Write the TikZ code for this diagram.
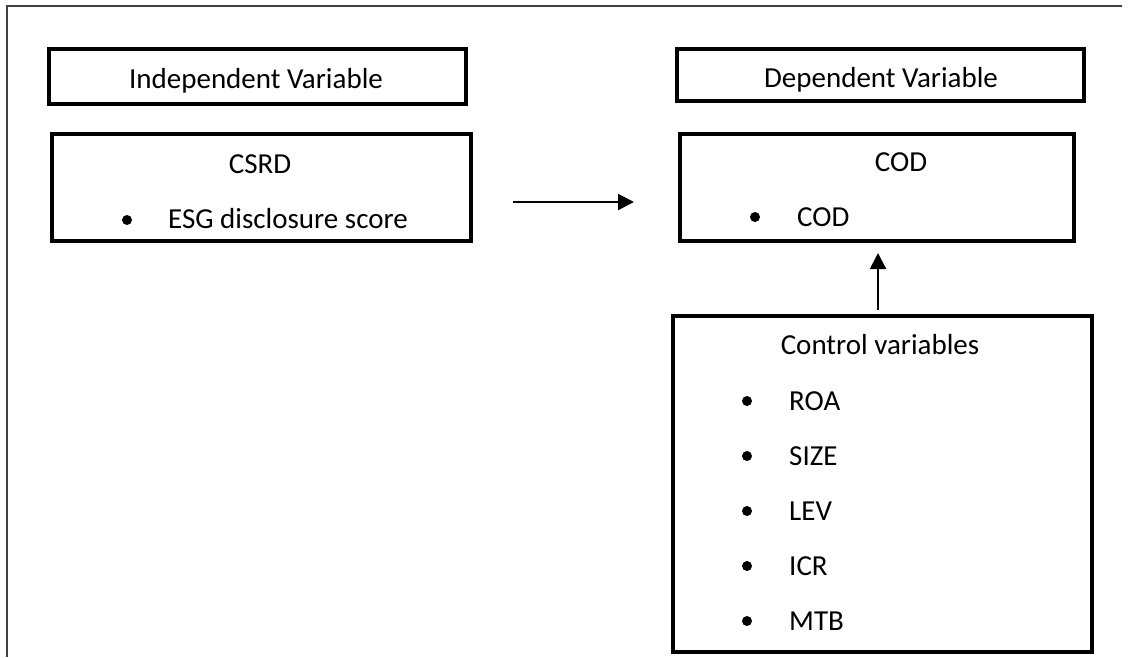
\documentclass[tikz,border=0pt]{standalone}
\usepackage{fontspec}
\setmainfont{Carlito}
\usetikzlibrary{arrows.meta,positioning}

\begin{document}
\begin{tikzpicture}[x=1pt,y=-1pt,
      box_thick/.style={
         draw=black,
         line width=4pt,
         inner sep=0pt},
      txt_lbl/.style={
         inner sep=0pt,
         font=\fontsize{29}{34}\selectfont},
      dot_item/.style={
         circle,
         fill=black,
         inner sep=0pt,
         minimum size=10pt},
      arrow_black/.style={
         -{Triangle[length=16pt,width=16pt]},
         line width=2pt},
      frame_line/.style={
         draw=black!75,
         line width=2pt}
]
      \useasboundingbox (0,0) rectangle (1131,657);
      % frame
      \draw[frame_line] (1122,5.5) -- (7,5.5) -- (7,657);

      % boxes
      \node[box_thick,minimum width=417,minimum height=55] (indep) at (257,76) {};
      \node[box_thick,minimum width=419,minimum height=107] (csrd) at (261,187) {};
      \node[box_thick,minimum width=407,minimum height=52] (dep) at (880,74.5) {};
      \node[box_thick,minimum width=394,minimum height=107] (cod) at (876.5,187) {};
      \node[box_thick,minimum width=419,minimum height=336] (ctrl) at (882,483.5) {};

      % titles
      \node[txt_lbl,anchor=base] (t_indep) at (256,88) {Independent Variable};
      \node[txt_lbl,anchor=base] (t_dep) at (881,87) {Dependent Variable};
      \node[txt_lbl,anchor=base] (t_csrd) at (260,173) {CSRD};
      \node[txt_lbl,anchor=base] (t_cod) at (901,171) {COD};
      \node[txt_lbl,anchor=base] (t_ctrl) at (880,354) {Control variables};

      % items
      \node[dot_item] (d_esg) at (127,220) {};
      \node[txt_lbl,anchor=base west] (t_esg) at (168,228) {ESG disclosure score};
      \node[dot_item] (d_cod) at (755,217) {};
      \node[txt_lbl,anchor=base west] (t_codi) at (797,226) {COD};
      \foreach \name/\txt/\y in {% name/text/baseline
        roa/ROA/410,
        size/SIZE/465,
        lev/LEV/520,
        icr/ICR/575,
        mtb/MTB/630}
      {
        \node[dot_item] (d_\name) at (747,\y-9) {};
        \node[txt_lbl,anchor=base west] (t_\name) at (789,\y) {\txt};
      }

      % arrows
      \coordinate (vx) at (878,0);
      \draw[arrow_black,shorten <=40.5pt,shorten >=43.5pt]
        ([yshift=-15pt]csrd.east) -- ([yshift=-15pt]cod.west);
      \draw[arrow_black,shorten <=3.5pt,shorten >=10.5pt]
        (ctrl.north -| vx) -- (cod.south -| vx);
\end{tikzpicture}
\end{document}
